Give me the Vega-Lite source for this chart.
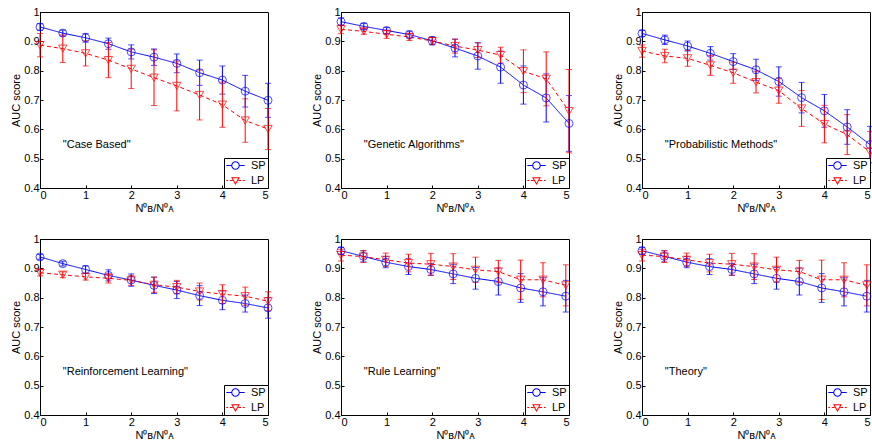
{
"$schema": "https://vega.github.io/schema/vega-lite/v6.json",
"padding": {"left": 10, "top": 5, "right": 0, "bottom": 0},
"background": "white",
"data": {"values": [
{"panel":"Case Based","series":"SP","x":0,"auc":0.949,"err":0.011},
{"panel":"Case Based","series":"SP","x":0.5,"auc":0.928,"err":0.010},
{"panel":"Case Based","series":"SP","x":1,"auc":0.912,"err":0.015},
{"panel":"Case Based","series":"SP","x":1.5,"auc":0.892,"err":0.019},
{"panel":"Case Based","series":"SP","x":2,"auc":0.864,"err":0.024},
{"panel":"Case Based","series":"SP","x":2.5,"auc":0.846,"err":0.028},
{"panel":"Case Based","series":"SP","x":3,"auc":0.825,"err":0.032},
{"panel":"Case Based","series":"SP","x":3.5,"auc":0.793,"err":0.043},
{"panel":"Case Based","series":"SP","x":4,"auc":0.768,"err":0.048},
{"panel":"Case Based","series":"SP","x":4.5,"auc":0.730,"err":0.054},
{"panel":"Case Based","series":"SP","x":5,"auc":0.699,"err":0.058},
{"panel":"Case Based","series":"LP","x":0,"auc":0.887,"err":0.040},
{"panel":"Case Based","series":"LP","x":0.5,"auc":0.875,"err":0.047},
{"panel":"Case Based","series":"LP","x":1,"auc":0.859,"err":0.043},
{"panel":"Case Based","series":"LP","x":1.5,"auc":0.836,"err":0.060},
{"panel":"Case Based","series":"LP","x":2,"auc":0.806,"err":0.067},
{"panel":"Case Based","series":"LP","x":2.5,"auc":0.776,"err":0.095},
{"panel":"Case Based","series":"LP","x":3,"auc":0.748,"err":0.085},
{"panel":"Case Based","series":"LP","x":3.5,"auc":0.717,"err":0.085},
{"panel":"Case Based","series":"LP","x":4,"auc":0.684,"err":0.077},
{"panel":"Case Based","series":"LP","x":4.5,"auc":0.630,"err":0.074},
{"panel":"Case Based","series":"LP","x":5,"auc":0.601,"err":0.070},
{"panel":"Genetic Algorithms","series":"SP","x":0,"auc":0.967,"err":0.013},
{"panel":"Genetic Algorithms","series":"SP","x":0.5,"auc":0.951,"err":0.010},
{"panel":"Genetic Algorithms","series":"SP","x":1,"auc":0.937,"err":0.010},
{"panel":"Genetic Algorithms","series":"SP","x":1.5,"auc":0.923,"err":0.012},
{"panel":"Genetic Algorithms","series":"SP","x":2,"auc":0.902,"err":0.014},
{"panel":"Genetic Algorithms","series":"SP","x":2.5,"auc":0.877,"err":0.030},
{"panel":"Genetic Algorithms","series":"SP","x":3,"auc":0.850,"err":0.045},
{"panel":"Genetic Algorithms","series":"SP","x":3.5,"auc":0.812,"err":0.055},
{"panel":"Genetic Algorithms","series":"SP","x":4,"auc":0.751,"err":0.065},
{"panel":"Genetic Algorithms","series":"SP","x":4.5,"auc":0.707,"err":0.082},
{"panel":"Genetic Algorithms","series":"SP","x":5,"auc":0.620,"err":0.095},
{"panel":"Genetic Algorithms","series":"LP","x":0,"auc":0.941,"err":0.015},
{"panel":"Genetic Algorithms","series":"LP","x":0.5,"auc":0.934,"err":0.010},
{"panel":"Genetic Algorithms","series":"LP","x":1,"auc":0.924,"err":0.014},
{"panel":"Genetic Algorithms","series":"LP","x":1.5,"auc":0.915,"err":0.012},
{"panel":"Genetic Algorithms","series":"LP","x":2,"auc":0.901,"err":0.012},
{"panel":"Genetic Algorithms","series":"LP","x":2.5,"auc":0.884,"err":0.024},
{"panel":"Genetic Algorithms","series":"LP","x":3,"auc":0.870,"err":0.025},
{"panel":"Genetic Algorithms","series":"LP","x":3.5,"auc":0.853,"err":0.027},
{"panel":"Genetic Algorithms","series":"LP","x":4,"auc":0.798,"err":0.073},
{"panel":"Genetic Algorithms","series":"LP","x":4.5,"auc":0.772,"err":0.092},
{"panel":"Genetic Algorithms","series":"LP","x":5,"auc":0.662,"err":0.142},
{"panel":"Probabilistic Methods","series":"SP","x":0,"auc":0.927,"err":0.010},
{"panel":"Probabilistic Methods","series":"SP","x":0.5,"auc":0.905,"err":0.016},
{"panel":"Probabilistic Methods","series":"SP","x":1,"auc":0.884,"err":0.017},
{"panel":"Probabilistic Methods","series":"SP","x":1.5,"auc":0.859,"err":0.023},
{"panel":"Probabilistic Methods","series":"SP","x":2,"auc":0.831,"err":0.027},
{"panel":"Probabilistic Methods","series":"SP","x":2.5,"auc":0.803,"err":0.036},
{"panel":"Probabilistic Methods","series":"SP","x":3,"auc":0.763,"err":0.050},
{"panel":"Probabilistic Methods","series":"SP","x":3.5,"auc":0.708,"err":0.052},
{"panel":"Probabilistic Methods","series":"SP","x":4,"auc":0.663,"err":0.056},
{"panel":"Probabilistic Methods","series":"SP","x":4.5,"auc":0.608,"err":0.059},
{"panel":"Probabilistic Methods","series":"SP","x":5,"auc":0.548,"err":0.062},
{"panel":"Probabilistic Methods","series":"LP","x":0,"auc":0.867,"err":0.021},
{"panel":"Probabilistic Methods","series":"LP","x":0.5,"auc":0.850,"err":0.023},
{"panel":"Probabilistic Methods","series":"LP","x":1,"auc":0.842,"err":0.027},
{"panel":"Probabilistic Methods","series":"LP","x":1.5,"auc":0.818,"err":0.034},
{"panel":"Probabilistic Methods","series":"LP","x":2,"auc":0.793,"err":0.036},
{"panel":"Probabilistic Methods","series":"LP","x":2.5,"auc":0.761,"err":0.037},
{"panel":"Probabilistic Methods","series":"LP","x":3,"auc":0.732,"err":0.043},
{"panel":"Probabilistic Methods","series":"LP","x":3.5,"auc":0.671,"err":0.061},
{"panel":"Probabilistic Methods","series":"LP","x":4,"auc":0.618,"err":0.064},
{"panel":"Probabilistic Methods","series":"LP","x":4.5,"auc":0.582,"err":0.068},
{"panel":"Probabilistic Methods","series":"LP","x":5,"auc":0.523,"err":0.070},
{"panel":"Reinforcement Learning","series":"SP","x":0,"auc":0.939,"err":0.008},
{"panel":"Reinforcement Learning","series":"SP","x":0.5,"auc":0.916,"err":0.008},
{"panel":"Reinforcement Learning","series":"SP","x":1,"auc":0.896,"err":0.013},
{"panel":"Reinforcement Learning","series":"SP","x":1.5,"auc":0.876,"err":0.019},
{"panel":"Reinforcement Learning","series":"SP","x":2,"auc":0.860,"err":0.021},
{"panel":"Reinforcement Learning","series":"SP","x":2.5,"auc":0.842,"err":0.028},
{"panel":"Reinforcement Learning","series":"SP","x":3,"auc":0.826,"err":0.029},
{"panel":"Reinforcement Learning","series":"SP","x":3.5,"auc":0.807,"err":0.034},
{"panel":"Reinforcement Learning","series":"SP","x":4,"auc":0.791,"err":0.032},
{"panel":"Reinforcement Learning","series":"SP","x":4.5,"auc":0.780,"err":0.029},
{"panel":"Reinforcement Learning","series":"SP","x":5,"auc":0.765,"err":0.035},
{"panel":"Reinforcement Learning","series":"LP","x":0,"auc":0.885,"err":0.011},
{"panel":"Reinforcement Learning","series":"LP","x":0.5,"auc":0.878,"err":0.010},
{"panel":"Reinforcement Learning","series":"LP","x":1,"auc":0.871,"err":0.011},
{"panel":"Reinforcement Learning","series":"LP","x":1.5,"auc":0.866,"err":0.016},
{"panel":"Reinforcement Learning","series":"LP","x":2,"auc":0.859,"err":0.017},
{"panel":"Reinforcement Learning","series":"LP","x":2.5,"auc":0.844,"err":0.026},
{"panel":"Reinforcement Learning","series":"LP","x":3,"auc":0.836,"err":0.023},
{"panel":"Reinforcement Learning","series":"LP","x":3.5,"auc":0.821,"err":0.029},
{"panel":"Reinforcement Learning","series":"LP","x":4,"auc":0.812,"err":0.032},
{"panel":"Reinforcement Learning","series":"LP","x":4.5,"auc":0.805,"err":0.031},
{"panel":"Reinforcement Learning","series":"LP","x":5,"auc":0.788,"err":0.032},
{"panel":"Rule Learning","series":"SP","x":0,"auc":0.960,"err":0.012},
{"panel":"Rule Learning","series":"SP","x":0.49,"auc":0.941,"err":0.019},
{"panel":"Rule Learning","series":"SP","x":0.98,"auc":0.921,"err":0.019},
{"panel":"Rule Learning","series":"SP","x":1.48,"auc":0.906,"err":0.027},
{"panel":"Rule Learning","series":"SP","x":1.97,"auc":0.896,"err":0.020},
{"panel":"Rule Learning","series":"SP","x":2.46,"auc":0.881,"err":0.033},
{"panel":"Rule Learning","series":"SP","x":2.95,"auc":0.866,"err":0.037},
{"panel":"Rule Learning","series":"SP","x":3.45,"auc":0.855,"err":0.046},
{"panel":"Rule Learning","series":"SP","x":3.94,"auc":0.833,"err":0.049},
{"panel":"Rule Learning","series":"SP","x":4.43,"auc":0.820,"err":0.048},
{"panel":"Rule Learning","series":"SP","x":4.93,"auc":0.805,"err":0.054},
{"panel":"Rule Learning","series":"LP","x":0,"auc":0.945,"err":0.020},
{"panel":"Rule Learning","series":"LP","x":0.49,"auc":0.940,"err":0.020},
{"panel":"Rule Learning","series":"LP","x":0.98,"auc":0.929,"err":0.023},
{"panel":"Rule Learning","series":"LP","x":1.48,"auc":0.918,"err":0.030},
{"panel":"Rule Learning","series":"LP","x":1.97,"auc":0.914,"err":0.037},
{"panel":"Rule Learning","series":"LP","x":2.46,"auc":0.906,"err":0.044},
{"panel":"Rule Learning","series":"LP","x":2.95,"auc":0.895,"err":0.043},
{"panel":"Rule Learning","series":"LP","x":3.45,"auc":0.889,"err":0.038},
{"panel":"Rule Learning","series":"LP","x":3.94,"auc":0.861,"err":0.067},
{"panel":"Rule Learning","series":"LP","x":4.43,"auc":0.861,"err":0.058},
{"panel":"Rule Learning","series":"LP","x":4.93,"auc":0.842,"err":0.070},
{"panel":"Theory","series":"SP","x":0,"auc":0.960,"err":0.012},
{"panel":"Theory","series":"SP","x":0.49,"auc":0.941,"err":0.019},
{"panel":"Theory","series":"SP","x":0.98,"auc":0.921,"err":0.019},
{"panel":"Theory","series":"SP","x":1.48,"auc":0.906,"err":0.027},
{"panel":"Theory","series":"SP","x":1.97,"auc":0.896,"err":0.020},
{"panel":"Theory","series":"SP","x":2.46,"auc":0.881,"err":0.033},
{"panel":"Theory","series":"SP","x":2.95,"auc":0.866,"err":0.037},
{"panel":"Theory","series":"SP","x":3.45,"auc":0.855,"err":0.046},
{"panel":"Theory","series":"SP","x":3.94,"auc":0.833,"err":0.049},
{"panel":"Theory","series":"SP","x":4.43,"auc":0.820,"err":0.048},
{"panel":"Theory","series":"SP","x":4.93,"auc":0.805,"err":0.054},
{"panel":"Theory","series":"LP","x":0,"auc":0.945,"err":0.020},
{"panel":"Theory","series":"LP","x":0.49,"auc":0.940,"err":0.020},
{"panel":"Theory","series":"LP","x":0.98,"auc":0.929,"err":0.023},
{"panel":"Theory","series":"LP","x":1.48,"auc":0.918,"err":0.030},
{"panel":"Theory","series":"LP","x":1.97,"auc":0.914,"err":0.037},
{"panel":"Theory","series":"LP","x":2.46,"auc":0.906,"err":0.044},
{"panel":"Theory","series":"LP","x":2.95,"auc":0.895,"err":0.043},
{"panel":"Theory","series":"LP","x":3.45,"auc":0.889,"err":0.038},
{"panel":"Theory","series":"LP","x":3.94,"auc":0.861,"err":0.067},
{"panel":"Theory","series":"LP","x":4.43,"auc":0.861,"err":0.058},
{"panel":"Theory","series":"LP","x":4.93,"auc":0.842,"err":0.070}
]},
"columns": 3,
"spacing": {"row": 18, "column": 36},
"resolve": {"scale": {"color": "independent", "shape": "independent", "strokeDash": "independent"}, "legend": {"color": "independent", "shape": "independent"}},
"concat": [
{"width": 228, "height": 176, "transform": [{"filter": "datum.panel === 'Case Based'"}], "layer": [
 {"mark": {"type": "line", "strokeWidth": 1}, "encoding": {
   "x": {"field": "x", "type": "quantitative", "scale": {"domain": [0, 5], "nice": false}, "axis": {"values": [0,1,2,3,4,5], "title": "N⁰ʙ/N⁰ᴀ"}},
   "y": {"field": "auc", "type": "quantitative", "scale": {"domain": [0.4, 1], "nice": false, "zero": false}, "axis": {"values": [0.4,0.5,0.6,0.7,0.8,0.9,1], "tickCount": 7, "labelOverlap": false, "format": ".2~g", "title": "AUC score"}},
   "color": {"field": "series", "type": "nominal", "scale": {"domain": ["SP","LP"], "range": ["#0000ff","#ff0000"]}, "legend": {"orient": "bottom-right", "offset": 0, "title": null, "symbolOffset": 4}},
   "strokeDash": {"field": "series", "type": "nominal", "scale": {"domain": ["SP","LP"], "range": [[1,0],[4,3]]}, "legend": null}}},
 {"mark": {"type": "errorbar", "ticks": {"size": 6}, "thickness": 1}, "encoding": {"x": {"field": "x", "type": "quantitative", "axis": {"values": [0,1,2,3,4,5], "title": "N⁰ʙ/N⁰ᴀ"}}, "y": {"field": "auc", "type": "quantitative", "axis": {"values": [0.4,0.5,0.6,0.7,0.8,0.9,1], "tickCount": 7, "labelOverlap": false, "format": ".2~g", "title": "AUC score"}}, "yError": {"field": "err"}, "color": {"field": "series", "type": "nominal", "legend": null}}},
 {"transform": [{"filter": "datum.series === 'SP'"}], "mark": {"type": "point", "shape": "circle", "size": 64, "filled": false, "strokeWidth": 1}, "encoding": {"x": {"field": "x", "type": "quantitative"}, "y": {"field": "auc", "type": "quantitative"}, "color": {"field": "series", "type": "nominal", "legend": null}}},
 {"transform": [{"filter": "datum.series === 'LP'"}], "mark": {"type": "point", "shape": "triangle-down", "size": 70, "filled": false, "strokeWidth": 1}, "encoding": {"x": {"field": "x", "type": "quantitative"}, "y": {"field": "auc", "type": "quantitative"}, "color": {"field": "series", "type": "nominal", "legend": null}}},
 {"mark": {"type": "point", "opacity": 0, "filled": false}, "encoding": {"x": {"field": "x", "type": "quantitative"}, "y": {"field": "auc", "type": "quantitative"}, "color": {"field": "series", "type": "nominal"},
   "shape": {"field": "series", "type": "nominal", "scale": {"domain": ["SP","LP"], "range": ["M-2.3,-0.125L-1,-0.125L-1,0.125L-2.3,0.125Z M1,-0.125L2.3,-0.125L2.3,0.125L1,0.125Z M1.06,0A1.06,1.06,0,1,1,-1.06,0A1.06,1.06,0,1,1,1.06,0Z M0.81,0A0.81,0.81,0,1,0,-0.81,0A0.81,0.81,0,1,0,0.81,0Z", "M-2.3,-0.125L-1.85,-0.125L-1.85,0.125L-2.3,0.125Z M-1.4,-0.125L-0.7,-0.125L-0.7,0.125L-1.4,0.125Z M0.7,-0.125L1.4,-0.125L1.4,0.125L0.7,0.125Z M1.85,-0.125L2.3,-0.125L2.3,0.125L1.85,0.125Z M-1.1,-0.8L1.1,-0.8L0,1.1Z M-0.667,-0.55L0,0.6L0.667,-0.55Z"]}, "legend": {"orient": "bottom-right", "offset": 0, "title": null, "symbolOffset": 4}}}},
 {"data": {"values": [{"label": "\"Case Based\""}]}, "mark": {"type": "text", "align": "left", "baseline": "middle", "fontSize": 11, "font": "Liberation Sans", "color": "black"}, "encoding": {"x": {"datum": 0.5}, "y": {"datum": 0.545}, "text": {"field": "label"}}}
]},
{"width": 228, "height": 176, "transform": [{"filter": "datum.panel === 'Genetic Algorithms'"}], "layer": [
 {"mark": {"type": "line", "strokeWidth": 1}, "encoding": {
   "x": {"field": "x", "type": "quantitative", "scale": {"domain": [0, 5], "nice": false}, "axis": {"values": [0,1,2,3,4,5], "title": "N⁰ʙ/N⁰ᴀ"}},
   "y": {"field": "auc", "type": "quantitative", "scale": {"domain": [0.4, 1], "nice": false, "zero": false}, "axis": {"values": [0.4,0.5,0.6,0.7,0.8,0.9,1], "tickCount": 7, "labelOverlap": false, "format": ".2~g", "title": "AUC score"}},
   "color": {"field": "series", "type": "nominal", "scale": {"domain": ["SP","LP"], "range": ["#0000ff","#ff0000"]}, "legend": {"orient": "bottom-right", "offset": 0, "title": null, "symbolOffset": 4}},
   "strokeDash": {"field": "series", "type": "nominal", "scale": {"domain": ["SP","LP"], "range": [[1,0],[4,3]]}, "legend": null}}},
 {"mark": {"type": "errorbar", "ticks": {"size": 6}, "thickness": 1}, "encoding": {"x": {"field": "x", "type": "quantitative", "axis": {"values": [0,1,2,3,4,5], "title": "N⁰ʙ/N⁰ᴀ"}}, "y": {"field": "auc", "type": "quantitative", "axis": {"values": [0.4,0.5,0.6,0.7,0.8,0.9,1], "tickCount": 7, "labelOverlap": false, "format": ".2~g", "title": "AUC score"}}, "yError": {"field": "err"}, "color": {"field": "series", "type": "nominal", "legend": null}}},
 {"transform": [{"filter": "datum.series === 'SP'"}], "mark": {"type": "point", "shape": "circle", "size": 64, "filled": false, "strokeWidth": 1}, "encoding": {"x": {"field": "x", "type": "quantitative"}, "y": {"field": "auc", "type": "quantitative"}, "color": {"field": "series", "type": "nominal", "legend": null}}},
 {"transform": [{"filter": "datum.series === 'LP'"}], "mark": {"type": "point", "shape": "triangle-down", "size": 70, "filled": false, "strokeWidth": 1}, "encoding": {"x": {"field": "x", "type": "quantitative"}, "y": {"field": "auc", "type": "quantitative"}, "color": {"field": "series", "type": "nominal", "legend": null}}},
 {"mark": {"type": "point", "opacity": 0, "filled": false}, "encoding": {"x": {"field": "x", "type": "quantitative"}, "y": {"field": "auc", "type": "quantitative"}, "color": {"field": "series", "type": "nominal"},
   "shape": {"field": "series", "type": "nominal", "scale": {"domain": ["SP","LP"], "range": ["M-2.3,-0.125L-1,-0.125L-1,0.125L-2.3,0.125Z M1,-0.125L2.3,-0.125L2.3,0.125L1,0.125Z M1.06,0A1.06,1.06,0,1,1,-1.06,0A1.06,1.06,0,1,1,1.06,0Z M0.81,0A0.81,0.81,0,1,0,-0.81,0A0.81,0.81,0,1,0,0.81,0Z", "M-2.3,-0.125L-1.85,-0.125L-1.85,0.125L-2.3,0.125Z M-1.4,-0.125L-0.7,-0.125L-0.7,0.125L-1.4,0.125Z M0.7,-0.125L1.4,-0.125L1.4,0.125L0.7,0.125Z M1.85,-0.125L2.3,-0.125L2.3,0.125L1.85,0.125Z M-1.1,-0.8L1.1,-0.8L0,1.1Z M-0.667,-0.55L0,0.6L0.667,-0.55Z"]}, "legend": {"orient": "bottom-right", "offset": 0, "title": null, "symbolOffset": 4}}}},
 {"data": {"values": [{"label": "\"Genetic Algorithms\""}]}, "mark": {"type": "text", "align": "left", "baseline": "middle", "fontSize": 11, "font": "Liberation Sans", "color": "black"}, "encoding": {"x": {"datum": 0.5}, "y": {"datum": 0.545}, "text": {"field": "label"}}}
]},
{"width": 228, "height": 176, "transform": [{"filter": "datum.panel === 'Probabilistic Methods'"}], "layer": [
 {"mark": {"type": "line", "strokeWidth": 1}, "encoding": {
   "x": {"field": "x", "type": "quantitative", "scale": {"domain": [0, 5], "nice": false}, "axis": {"values": [0,1,2,3,4,5], "title": "N⁰ʙ/N⁰ᴀ"}},
   "y": {"field": "auc", "type": "quantitative", "scale": {"domain": [0.4, 1], "nice": false, "zero": false}, "axis": {"values": [0.4,0.5,0.6,0.7,0.8,0.9,1], "tickCount": 7, "labelOverlap": false, "format": ".2~g", "title": "AUC score"}},
   "color": {"field": "series", "type": "nominal", "scale": {"domain": ["SP","LP"], "range": ["#0000ff","#ff0000"]}, "legend": {"orient": "bottom-right", "offset": 0, "title": null, "symbolOffset": 4}},
   "strokeDash": {"field": "series", "type": "nominal", "scale": {"domain": ["SP","LP"], "range": [[1,0],[4,3]]}, "legend": null}}},
 {"mark": {"type": "errorbar", "ticks": {"size": 6}, "thickness": 1}, "encoding": {"x": {"field": "x", "type": "quantitative", "axis": {"values": [0,1,2,3,4,5], "title": "N⁰ʙ/N⁰ᴀ"}}, "y": {"field": "auc", "type": "quantitative", "axis": {"values": [0.4,0.5,0.6,0.7,0.8,0.9,1], "tickCount": 7, "labelOverlap": false, "format": ".2~g", "title": "AUC score"}}, "yError": {"field": "err"}, "color": {"field": "series", "type": "nominal", "legend": null}}},
 {"transform": [{"filter": "datum.series === 'SP'"}], "mark": {"type": "point", "shape": "circle", "size": 64, "filled": false, "strokeWidth": 1}, "encoding": {"x": {"field": "x", "type": "quantitative"}, "y": {"field": "auc", "type": "quantitative"}, "color": {"field": "series", "type": "nominal", "legend": null}}},
 {"transform": [{"filter": "datum.series === 'LP'"}], "mark": {"type": "point", "shape": "triangle-down", "size": 70, "filled": false, "strokeWidth": 1}, "encoding": {"x": {"field": "x", "type": "quantitative"}, "y": {"field": "auc", "type": "quantitative"}, "color": {"field": "series", "type": "nominal", "legend": null}}},
 {"mark": {"type": "point", "opacity": 0, "filled": false}, "encoding": {"x": {"field": "x", "type": "quantitative"}, "y": {"field": "auc", "type": "quantitative"}, "color": {"field": "series", "type": "nominal"},
   "shape": {"field": "series", "type": "nominal", "scale": {"domain": ["SP","LP"], "range": ["M-2.3,-0.125L-1,-0.125L-1,0.125L-2.3,0.125Z M1,-0.125L2.3,-0.125L2.3,0.125L1,0.125Z M1.06,0A1.06,1.06,0,1,1,-1.06,0A1.06,1.06,0,1,1,1.06,0Z M0.81,0A0.81,0.81,0,1,0,-0.81,0A0.81,0.81,0,1,0,0.81,0Z", "M-2.3,-0.125L-1.85,-0.125L-1.85,0.125L-2.3,0.125Z M-1.4,-0.125L-0.7,-0.125L-0.7,0.125L-1.4,0.125Z M0.7,-0.125L1.4,-0.125L1.4,0.125L0.7,0.125Z M1.85,-0.125L2.3,-0.125L2.3,0.125L1.85,0.125Z M-1.1,-0.8L1.1,-0.8L0,1.1Z M-0.667,-0.55L0,0.6L0.667,-0.55Z"]}, "legend": {"orient": "bottom-right", "offset": 0, "title": null, "symbolOffset": 4}}}},
 {"data": {"values": [{"label": "\"Probabilistic Methods\""}]}, "mark": {"type": "text", "align": "left", "baseline": "middle", "fontSize": 11, "font": "Liberation Sans", "color": "black"}, "encoding": {"x": {"datum": 0.5}, "y": {"datum": 0.545}, "text": {"field": "label"}}}
]},
{"width": 228, "height": 176, "transform": [{"filter": "datum.panel === 'Reinforcement Learning'"}], "layer": [
 {"mark": {"type": "line", "strokeWidth": 1}, "encoding": {
   "x": {"field": "x", "type": "quantitative", "scale": {"domain": [0, 5], "nice": false}, "axis": {"values": [0,1,2,3,4,5], "title": "N⁰ʙ/N⁰ᴀ"}},
   "y": {"field": "auc", "type": "quantitative", "scale": {"domain": [0.4, 1], "nice": false, "zero": false}, "axis": {"values": [0.4,0.5,0.6,0.7,0.8,0.9,1], "tickCount": 7, "labelOverlap": false, "format": ".2~g", "title": "AUC score"}},
   "color": {"field": "series", "type": "nominal", "scale": {"domain": ["SP","LP"], "range": ["#0000ff","#ff0000"]}, "legend": {"orient": "bottom-right", "offset": 0, "title": null, "symbolOffset": 4}},
   "strokeDash": {"field": "series", "type": "nominal", "scale": {"domain": ["SP","LP"], "range": [[1,0],[4,3]]}, "legend": null}}},
 {"mark": {"type": "errorbar", "ticks": {"size": 6}, "thickness": 1}, "encoding": {"x": {"field": "x", "type": "quantitative", "axis": {"values": [0,1,2,3,4,5], "title": "N⁰ʙ/N⁰ᴀ"}}, "y": {"field": "auc", "type": "quantitative", "axis": {"values": [0.4,0.5,0.6,0.7,0.8,0.9,1], "tickCount": 7, "labelOverlap": false, "format": ".2~g", "title": "AUC score"}}, "yError": {"field": "err"}, "color": {"field": "series", "type": "nominal", "legend": null}}},
 {"transform": [{"filter": "datum.series === 'SP'"}], "mark": {"type": "point", "shape": "circle", "size": 64, "filled": false, "strokeWidth": 1}, "encoding": {"x": {"field": "x", "type": "quantitative"}, "y": {"field": "auc", "type": "quantitative"}, "color": {"field": "series", "type": "nominal", "legend": null}}},
 {"transform": [{"filter": "datum.series === 'LP'"}], "mark": {"type": "point", "shape": "triangle-down", "size": 70, "filled": false, "strokeWidth": 1}, "encoding": {"x": {"field": "x", "type": "quantitative"}, "y": {"field": "auc", "type": "quantitative"}, "color": {"field": "series", "type": "nominal", "legend": null}}},
 {"mark": {"type": "point", "opacity": 0, "filled": false}, "encoding": {"x": {"field": "x", "type": "quantitative"}, "y": {"field": "auc", "type": "quantitative"}, "color": {"field": "series", "type": "nominal"},
   "shape": {"field": "series", "type": "nominal", "scale": {"domain": ["SP","LP"], "range": ["M-2.3,-0.125L-1,-0.125L-1,0.125L-2.3,0.125Z M1,-0.125L2.3,-0.125L2.3,0.125L1,0.125Z M1.06,0A1.06,1.06,0,1,1,-1.06,0A1.06,1.06,0,1,1,1.06,0Z M0.81,0A0.81,0.81,0,1,0,-0.81,0A0.81,0.81,0,1,0,0.81,0Z", "M-2.3,-0.125L-1.85,-0.125L-1.85,0.125L-2.3,0.125Z M-1.4,-0.125L-0.7,-0.125L-0.7,0.125L-1.4,0.125Z M0.7,-0.125L1.4,-0.125L1.4,0.125L0.7,0.125Z M1.85,-0.125L2.3,-0.125L2.3,0.125L1.85,0.125Z M-1.1,-0.8L1.1,-0.8L0,1.1Z M-0.667,-0.55L0,0.6L0.667,-0.55Z"]}, "legend": {"orient": "bottom-right", "offset": 0, "title": null, "symbolOffset": 4}}}},
 {"data": {"values": [{"label": "\"Reinforcement Learning\""}]}, "mark": {"type": "text", "align": "left", "baseline": "middle", "fontSize": 11, "font": "Liberation Sans", "color": "black"}, "encoding": {"x": {"datum": 0.5}, "y": {"datum": 0.545}, "text": {"field": "label"}}}
]},
{"width": 228, "height": 176, "transform": [{"filter": "datum.panel === 'Rule Learning'"}], "layer": [
 {"mark": {"type": "line", "strokeWidth": 1}, "encoding": {
   "x": {"field": "x", "type": "quantitative", "scale": {"domain": [0, 5], "nice": false}, "axis": {"values": [0,1,2,3,4,5], "title": "N⁰ʙ/N⁰ᴀ"}},
   "y": {"field": "auc", "type": "quantitative", "scale": {"domain": [0.4, 1], "nice": false, "zero": false}, "axis": {"values": [0.4,0.5,0.6,0.7,0.8,0.9,1], "tickCount": 7, "labelOverlap": false, "format": ".2~g", "title": "AUC score"}},
   "color": {"field": "series", "type": "nominal", "scale": {"domain": ["SP","LP"], "range": ["#0000ff","#ff0000"]}, "legend": {"orient": "bottom-right", "offset": 0, "title": null, "symbolOffset": 4}},
   "strokeDash": {"field": "series", "type": "nominal", "scale": {"domain": ["SP","LP"], "range": [[1,0],[4,3]]}, "legend": null}}},
 {"mark": {"type": "errorbar", "ticks": {"size": 6}, "thickness": 1}, "encoding": {"x": {"field": "x", "type": "quantitative", "axis": {"values": [0,1,2,3,4,5], "title": "N⁰ʙ/N⁰ᴀ"}}, "y": {"field": "auc", "type": "quantitative", "axis": {"values": [0.4,0.5,0.6,0.7,0.8,0.9,1], "tickCount": 7, "labelOverlap": false, "format": ".2~g", "title": "AUC score"}}, "yError": {"field": "err"}, "color": {"field": "series", "type": "nominal", "legend": null}}},
 {"transform": [{"filter": "datum.series === 'SP'"}], "mark": {"type": "point", "shape": "circle", "size": 64, "filled": false, "strokeWidth": 1}, "encoding": {"x": {"field": "x", "type": "quantitative"}, "y": {"field": "auc", "type": "quantitative"}, "color": {"field": "series", "type": "nominal", "legend": null}}},
 {"transform": [{"filter": "datum.series === 'LP'"}], "mark": {"type": "point", "shape": "triangle-down", "size": 70, "filled": false, "strokeWidth": 1}, "encoding": {"x": {"field": "x", "type": "quantitative"}, "y": {"field": "auc", "type": "quantitative"}, "color": {"field": "series", "type": "nominal", "legend": null}}},
 {"mark": {"type": "point", "opacity": 0, "filled": false}, "encoding": {"x": {"field": "x", "type": "quantitative"}, "y": {"field": "auc", "type": "quantitative"}, "color": {"field": "series", "type": "nominal"},
   "shape": {"field": "series", "type": "nominal", "scale": {"domain": ["SP","LP"], "range": ["M-2.3,-0.125L-1,-0.125L-1,0.125L-2.3,0.125Z M1,-0.125L2.3,-0.125L2.3,0.125L1,0.125Z M1.06,0A1.06,1.06,0,1,1,-1.06,0A1.06,1.06,0,1,1,1.06,0Z M0.81,0A0.81,0.81,0,1,0,-0.81,0A0.81,0.81,0,1,0,0.81,0Z", "M-2.3,-0.125L-1.85,-0.125L-1.85,0.125L-2.3,0.125Z M-1.4,-0.125L-0.7,-0.125L-0.7,0.125L-1.4,0.125Z M0.7,-0.125L1.4,-0.125L1.4,0.125L0.7,0.125Z M1.85,-0.125L2.3,-0.125L2.3,0.125L1.85,0.125Z M-1.1,-0.8L1.1,-0.8L0,1.1Z M-0.667,-0.55L0,0.6L0.667,-0.55Z"]}, "legend": {"orient": "bottom-right", "offset": 0, "title": null, "symbolOffset": 4}}}},
 {"data": {"values": [{"label": "\"Rule Learning\""}]}, "mark": {"type": "text", "align": "left", "baseline": "middle", "fontSize": 11, "font": "Liberation Sans", "color": "black"}, "encoding": {"x": {"datum": 0.5}, "y": {"datum": 0.545}, "text": {"field": "label"}}}
]},
{"width": 228, "height": 176, "transform": [{"filter": "datum.panel === 'Theory'"}], "layer": [
 {"mark": {"type": "line", "strokeWidth": 1}, "encoding": {
   "x": {"field": "x", "type": "quantitative", "scale": {"domain": [0, 5], "nice": false}, "axis": {"values": [0,1,2,3,4,5], "title": "N⁰ʙ/N⁰ᴀ"}},
   "y": {"field": "auc", "type": "quantitative", "scale": {"domain": [0.4, 1], "nice": false, "zero": false}, "axis": {"values": [0.4,0.5,0.6,0.7,0.8,0.9,1], "tickCount": 7, "labelOverlap": false, "format": ".2~g", "title": "AUC score"}},
   "color": {"field": "series", "type": "nominal", "scale": {"domain": ["SP","LP"], "range": ["#0000ff","#ff0000"]}, "legend": {"orient": "bottom-right", "offset": 0, "title": null, "symbolOffset": 4}},
   "strokeDash": {"field": "series", "type": "nominal", "scale": {"domain": ["SP","LP"], "range": [[1,0],[4,3]]}, "legend": null}}},
 {"mark": {"type": "errorbar", "ticks": {"size": 6}, "thickness": 1}, "encoding": {"x": {"field": "x", "type": "quantitative", "axis": {"values": [0,1,2,3,4,5], "title": "N⁰ʙ/N⁰ᴀ"}}, "y": {"field": "auc", "type": "quantitative", "axis": {"values": [0.4,0.5,0.6,0.7,0.8,0.9,1], "tickCount": 7, "labelOverlap": false, "format": ".2~g", "title": "AUC score"}}, "yError": {"field": "err"}, "color": {"field": "series", "type": "nominal", "legend": null}}},
 {"transform": [{"filter": "datum.series === 'SP'"}], "mark": {"type": "point", "shape": "circle", "size": 64, "filled": false, "strokeWidth": 1}, "encoding": {"x": {"field": "x", "type": "quantitative"}, "y": {"field": "auc", "type": "quantitative"}, "color": {"field": "series", "type": "nominal", "legend": null}}},
 {"transform": [{"filter": "datum.series === 'LP'"}], "mark": {"type": "point", "shape": "triangle-down", "size": 70, "filled": false, "strokeWidth": 1}, "encoding": {"x": {"field": "x", "type": "quantitative"}, "y": {"field": "auc", "type": "quantitative"}, "color": {"field": "series", "type": "nominal", "legend": null}}},
 {"mark": {"type": "point", "opacity": 0, "filled": false}, "encoding": {"x": {"field": "x", "type": "quantitative"}, "y": {"field": "auc", "type": "quantitative"}, "color": {"field": "series", "type": "nominal"},
   "shape": {"field": "series", "type": "nominal", "scale": {"domain": ["SP","LP"], "range": ["M-2.3,-0.125L-1,-0.125L-1,0.125L-2.3,0.125Z M1,-0.125L2.3,-0.125L2.3,0.125L1,0.125Z M1.06,0A1.06,1.06,0,1,1,-1.06,0A1.06,1.06,0,1,1,1.06,0Z M0.81,0A0.81,0.81,0,1,0,-0.81,0A0.81,0.81,0,1,0,0.81,0Z", "M-2.3,-0.125L-1.85,-0.125L-1.85,0.125L-2.3,0.125Z M-1.4,-0.125L-0.7,-0.125L-0.7,0.125L-1.4,0.125Z M0.7,-0.125L1.4,-0.125L1.4,0.125L0.7,0.125Z M1.85,-0.125L2.3,-0.125L2.3,0.125L1.85,0.125Z M-1.1,-0.8L1.1,-0.8L0,1.1Z M-0.667,-0.55L0,0.6L0.667,-0.55Z"]}, "legend": {"orient": "bottom-right", "offset": 0, "title": null, "symbolOffset": 4}}}},
 {"data": {"values": [{"label": "\"Theory\""}]}, "mark": {"type": "text", "align": "left", "baseline": "middle", "fontSize": 11, "font": "Liberation Sans", "color": "black"}, "encoding": {"x": {"datum": 0.5}, "y": {"datum": 0.545}, "text": {"field": "label"}}}
]}
],
"config": {
 "font": "Liberation Sans",
 "view": {"stroke": "black", "strokeWidth": 1},
 "axis": {"grid": false, "labelOverlap": false, "domainColor": "black", "domainWidth": 1, "tickColor": "black", "tickWidth": 1, "tickSize": -3, "labelPadding": 4, "labelColor": "black", "labelFont": "Liberation Sans", "labelFontSize": 11, "titleFont": "Liberation Sans", "titleFontSize": 11, "titleFontWeight": "normal", "titleColor": "black", "titlePadding": 2},
 "axisY": {"labelOverlap": false, "labelSeparation": 0},
 "legend": {"strokeColor": "black", "fillColor": "white", "padding": 2, "symbolSize": 64, "symbolStrokeWidth": 0, "labelOffset": 10, "labelFontSize": 11, "labelFont": "Liberation Sans", "labelColor": "black", "rowPadding": 3, "cornerRadius": 0}
}
}
